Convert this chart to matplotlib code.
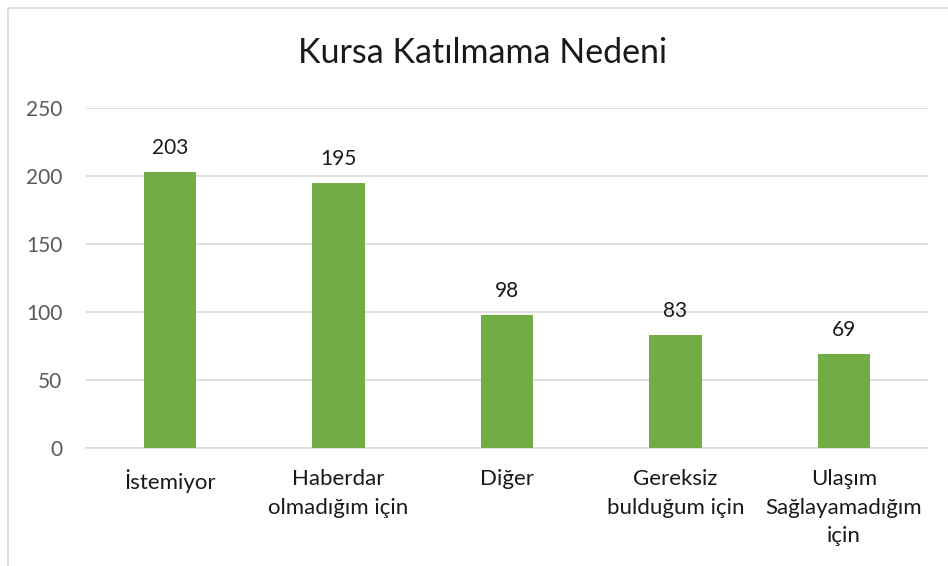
import matplotlib
matplotlib.use("Agg")
import matplotlib.pyplot as plt
from matplotlib.patches import Rectangle

categories = ["İstemiyor", "Haberdar\nolmadığım için", "Diğer", "Gereksiz\nbulduğum için", "Ulaşım\nSağlayamadığım\niçin"]
values = [203, 195, 98, 83, 69]
yticks = [0, 50, 100, 150, 200, 250]
title = "Kursa Katılmama Nedeni"

plt.rcParams['font.family'] = ['Lato', 'DejaVu Sans']

W, H = 948, 566
fig = plt.figure(figsize=(W/100, H/100), dpi=100)
fig.patch.set_facecolor('white')

# chart border
fig.patches.append(Rectangle((8/W, -0.1), 1.2, (H-8)/H + 0.1, transform=fig.transFigure,
                             fill=False, edgecolor='#D9D9D9', linewidth=1.2))

ax = fig.add_axes([86/W, (H-448)/H, (928-86)/W, (448-108)/H])
x = list(range(len(categories)))
ax.bar(x, values, width=0.31, color='#70AD47', zorder=3)
ax.set_xlim(-0.5, len(categories)-0.5)
ax.set_ylim(0, 250)
ax.set_yticks(yticks)
ax.set_yticklabels([str(t) for t in yticks])
ax.set_xticks(x)
ax.set_xticklabels(categories, linespacing=1.55)
ax.grid(axis='y', color='#D9D9D9', linewidth=1.2, zorder=0)
for s in ['left', 'right', 'top']:
    ax.spines[s].set_visible(False)
ax.spines['bottom'].set_color('#D9D9D9')
ax.spines['bottom'].set_linewidth(1.2)
ax.tick_params(axis='y', length=0, pad=17, labelsize=15, labelcolor='#595959')
ax.tick_params(axis='x', length=0, pad=15, labelsize=16, labelcolor='#1a1a1a')
for xi, v in zip(x, values):
    ax.annotate(str(v), (xi, v), xytext=(0, 10), textcoords='offset points',
                ha='center', va='bottom', fontsize=15, color='#1a1a1a')

fig.text(483/W, 1 - 53/H, title, ha='center', va='center', fontsize=24.5, color='#1a1a1a')

fig.savefig('out.png', dpi=100)
